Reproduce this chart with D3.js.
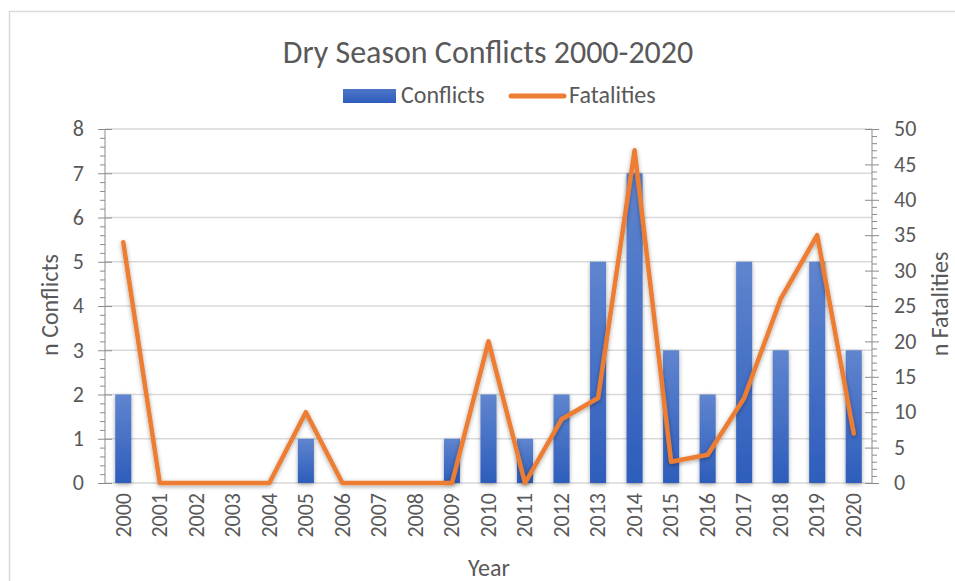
<!DOCTYPE html>
<html>
<head>
<meta charset="utf-8">
<script src="https://cdn.jsdelivr.net/npm/d3@7/dist/d3.min.js"></script>
<style>
  html, body { margin: 0; padding: 0; background: #fff; }
  svg text { font-family: Carlito, Calibri, Lato, "Open Sans", sans-serif; fill: #595959; }
</style>
</head>
<body>
<svg id="chart" width="955" height="581"></svg>
<script>
// Dry-season conflict counts and fatalities per year
const years = ["2000","2001","2002","2003","2004","2005","2006","2007","2008","2009","2010",
               "2011","2012","2013","2014","2015","2016","2017","2018","2019","2020"];
const conflicts = [2,0,0,0,0,1,0,0,0,1,2,1,2,5,7,3,2,5,3,5,3];
const fatalities = [34,0,0,0,0,10,0,0,0,0,20,0,9,12,47,3,4,12,26,35,7];
const leftTicks = [0,1,2,3,4,5,6,7,8];
const rightTicks = [0,5,10,15,20,25,30,35,40,45,50];

const svg = d3.select("#chart");
const plot = { left: 105, right: 872, top: 129, bottom: 483 };

const defs = svg.append("defs");
const grad = defs.append("linearGradient").attr("id", "barGrad")
  .attr("x1", 0).attr("y1", 0).attr("x2", 0).attr("y2", 1);
grad.append("stop").attr("offset", "0%").attr("stop-color", "#6085cf");
grad.append("stop").attr("offset", "100%").attr("stop-color", "#2d5dbb");
const lgGrad = defs.append("linearGradient").attr("id", "legGrad")
  .attr("x1", 0).attr("y1", 0).attr("x2", 0).attr("y2", 1);
lgGrad.append("stop").attr("offset", "0%").attr("stop-color", "#4d75c9");
lgGrad.append("stop").attr("offset", "100%").attr("stop-color", "#2d5dbb");
const shadow = defs.append("filter").attr("id", "shadow")
  .attr("x", "-30%").attr("y", "-10%").attr("width", "160%").attr("height", "130%");
shadow.append("feDropShadow").attr("dx", 0).attr("dy", 1.5).attr("stdDeviation", 2)
  .attr("flood-color", "#000").attr("flood-opacity", 0.35);

// chart frame
svg.append("rect").attr("x", 9.5).attr("y", 11.5).attr("width", 980).attr("height", 620)
  .attr("fill", "none").attr("stroke", "#d9d9d9").attr("stroke-width", 1.5);

const x = d3.scaleBand().domain(years).range([plot.left, plot.right])
  .paddingInner(0.56).paddingOuter(0.28);
const yL = d3.scaleLinear().domain([0, 8]).range([plot.bottom, plot.top]);
const yR = d3.scaleLinear().domain([0, 50]).range([plot.bottom, plot.top]);

// gridlines
svg.append("g").selectAll("line").data(leftTicks).join("line")
  .attr("x1", plot.left).attr("x2", plot.right)
  .attr("y1", d => yL(d)).attr("y2", d => yL(d))
  .attr("stroke", "#d9d9d9").attr("stroke-width", 1.3);

// left axis with minor ticks
const gL = svg.append("g").attr("transform", `translate(${plot.left},0)`);
gL.call(d3.axisLeft(yL).tickValues(d3.range(0, 8.01, 0.2)).tickSize(5).tickFormat(""));
gL.call(g => g.selectAll(".tick").filter(d => Math.abs(d - Math.round(d)) < 1e-6)
  .select("line").attr("x1", -7).attr("x2", 7));
gL.selectAll("line, path").attr("stroke", "#8c8c8c");
gL.select(".domain").attr("d", `M0,${plot.top}V${plot.bottom}`);
svg.append("g").selectAll("text").data(leftTicks).join("text")
  .attr("x", 84).attr("y", d => yL(d)).attr("dy", "0.33em")
  .attr("text-anchor", "end").attr("font-size", 22).text(d => d);

// right axis with minor ticks
const gR = svg.append("g").attr("transform", `translate(${plot.right},0)`);
gR.call(d3.axisRight(yR).tickValues(d3.range(0, 51, 1)).tickSize(5).tickFormat(""));
gR.call(g => g.selectAll(".tick").filter(d => d % 5 === 0)
  .select("line").attr("x1", -7).attr("x2", 7));
gR.selectAll("line, path").attr("stroke", "#8c8c8c");
gR.select(".domain").attr("d", `M0,${plot.top}V${plot.bottom}`);
svg.append("g").selectAll("text").data(rightTicks).join("text")
  .attr("x", 894).attr("y", d => yR(d)).attr("dy", "0.33em")
  .attr("text-anchor", "start").attr("font-size", 22).text(d => d);

// bars
svg.append("g").attr("filter", "url(#shadow)").selectAll("rect")
  .data(years.map((y, i) => ({ y, v: conflicts[i] })).filter(d => d.v > 0)).join("rect")
  .attr("x", d => x(d.y)).attr("width", x.bandwidth())
  .attr("y", d => yL(d.v)).attr("height", d => yL(0) - yL(d.v))
  .attr("fill", "url(#barGrad)");

// fatalities line
const line = d3.line().x((d, i) => x(years[i]) + x.bandwidth() / 2).y(d => yR(d));
svg.append("path").datum(fatalities).attr("d", line)
  .attr("fill", "none").attr("stroke", "#ed7d31").attr("stroke-width", 4.5)
  .attr("stroke-linejoin", "round").attr("stroke-linecap", "round")
  .attr("filter", "url(#shadow)");

// category labels
svg.append("g").selectAll("text").data(years).join("text")
  .attr("transform", d => `translate(${x(d) + x.bandwidth() / 2},493) rotate(-90)`)
  .attr("text-anchor", "end").attr("dy", "0.33em")
  .attr("font-size", 22).text(d => d);

// axis titles
svg.append("text").attr("x", 489).attr("y", 576).attr("text-anchor", "middle")
  .attr("font-size", 24).text("Year");
svg.append("text").attr("transform", "translate(58,305) rotate(-90)")
  .attr("text-anchor", "middle").attr("font-size", 24).text("n Conflicts");
svg.append("text").attr("transform", "translate(948,304) rotate(-90)")
  .attr("text-anchor", "middle").attr("font-size", 24).text("n Fatalities");

// title
svg.append("text").attr("x", 488).attr("y", 63).attr("text-anchor", "middle")
  .attr("font-size", 32).text("Dry Season Conflicts 2000-2020");

// legend
svg.append("rect").attr("x", 343).attr("y", 89).attr("width", 53).attr("height", 14)
  .attr("fill", "url(#legGrad)");
svg.append("text").attr("x", 401).attr("y", 103).attr("font-size", 24).text("Conflicts");
svg.append("line").attr("x1", 511).attr("x2", 564).attr("y1", 96).attr("y2", 96)
  .attr("stroke", "#ed7d31").attr("stroke-width", 5).attr("stroke-linecap", "round");
svg.append("text").attr("x", 569).attr("y", 103).attr("font-size", 24).text("Fatalities");
</script>
</body>
</html>
